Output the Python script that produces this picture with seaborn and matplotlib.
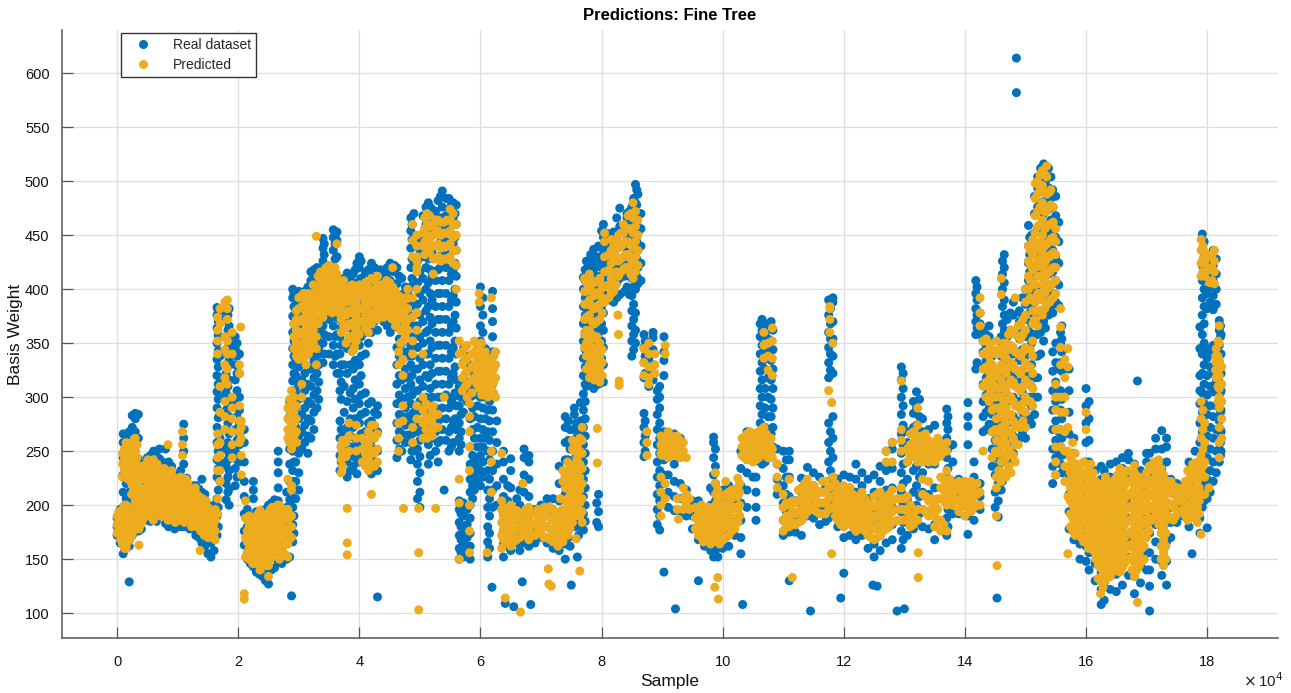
import numpy as np
import pandas as pd
import matplotlib
matplotlib.use("Agg")
import matplotlib.pyplot as plt
import seaborn as sns

# columns: (sample / 1e4, [basis weights])
real_seg1 = [
    (0.0,[172,180,188]),(0.05,[165,176,186,196]),(0.1,[155,168,182,198,212,228,244,258,266]),
    (0.15,[160,175,190,206,220,236,250,263]),(0.2,[162,178,195,212,228,243,256,268]),
    (0.25,[172,188,204,222,240,258,272,283]),(0.3,[180,196,214,232,250,268,280,285]),
    (0.35,[176,190,206,224,243,262,284]),(0.4,[178,194,210,226,238]),(0.45,[190,205,222,238]),
    (0.5,[186,202,218,234,244]),(0.55,[185,202,218,232,246]),(0.6,[187,205,222,240,250]),
    (0.65,[185,200,218,235,250]),(0.7,[190,207,225,243,252]),(0.75,[192,210,228,240]),
    (0.8,[183,200,218,235,252]),(0.85,[180,198,215,232,240]),(0.9,[182,200,220,236]),
    (0.95,[178,195,212,228]),(1.0,[180,195,212,228]),(1.05,[180,198,215,232]),
    (1.1,[180,200,220,238,250,262,275]),(1.15,[182,198,214,225]),(1.2,[178,195,212]),
    (1.25,[178,195,212,218]),(1.3,[172,188,205,218]),(1.35,[170,185,200,215]),
    (1.4,[165,182,198,212,224]),(1.45,[162,178,195,210]),(1.5,[155,170,185,200]),
    (1.55,[152,165,180,192]),(1.6,[158,172,188,200]),(1.65,[172,190,206,226,242,258,272,290,305,320,335,350,364,376,383]),
    (1.7,[222,240,262,284,300,318,338,356,372]),(1.8,[205,220,236,252,270,288,304,322,340,356,372,378]),
    (1.85,[200,215,232,248,266,282,300,316,334,350,366,382]),(1.95,[218,234,250,270,296,316,330,345,356]),
    (2.02,[240,256,266,275,288,300,322,340]),(2.1,[163,176,192,208,222,240,258,270]),(2.15,[150,165,180,196]),
    (2.2,[146,160,174,190]),(2.25,[143,158,172,186,206,214,222]),(2.3,[138,152,168,184,194]),
    (2.35,[136,150,166,182]),(2.4,[134,150,165,180,192]),(2.45,[130,148,164,180,196]),(2.5,[127,140,156,172,188,200]),
    (2.55,[140,156,172,186,202]),(2.6,[142,158,174,190,205]),(2.66,[148,164,182,204,216,230,240,250]),
    (2.72,[146,160,176,192]),(2.8,[150,166,182,198,212]),(2.85,[152,170,188,205,222,238,252,268,282,296]),
    (2.9,[166,182,198,214,232,250,266,282,298,315,330,345,360,375,392,400]),
    (2.95,[206,222,240,256,272,290,305,320,336,352,366,380,396]),
]
real_seg2 = [
    (3.05,[252,268,284,300,316,332,348,364,380,394]),(3.15,[248,264,280,296,312,328,344,360,376,392,402]),
    (3.2,[262,278,294,310,326,342,358,374,390,408,416]),(3.3,[290,306,322,338,354,372,388,404,420]),
    (3.4,[332,350,366,382,398,412,426,438,447]),(3.5,[340,356,372,388,404,418]),(3.57,[330,348,366,384,402,420,436,448,455]),
    (3.63,[322,340,358,376,394,412,430,445,453]),(3.68,[232,246,262,278,306,322,340,356,372,388,400]),
    (3.75,[250,268,286,310,330,350,372,392,410]),(3.8,[226,240,256,272,296,322,345,365,385,405,415]),
    (3.9,[236,254,272,290,308,326,344,362,380,398,414]),(3.96,[229,245,262,280,298,316,334,352,370,388,406,424]),
    (4.0,[240,258,276,294,312,330,348,366,384,402,420,430]),(4.1,[250,268,286,304,340,360,380,400,415]),
    (4.2,[229,244,260,278,296,360,380,398,412,424]),(4.3,[232,250,268,284,292,362,380,396,412]),
    (4.4,[370,386,402,416]),(4.51,[360,376,392,408,424]),(4.62,[244,260,276,294,312,330,346,365,385,405,420]),
    (4.7,[250,266,282,298,316,334,350,375,395,410]),(4.8,[265,282,300,318,338,358,378,396]),
    (4.85,[242,258,276,294,312,330,348,366,384,402,420,438,454,466]),(4.9,[250,268,286,306,326,346,366,386,406,426,448,470]),
    (5.0,[198,212,230,245,260,276,296,316,336,356,376,396,416,436,448]),(5.1,[262,280,300,320,340,360,380,400,420,440,460,476]),
    (5.14,[238,256,275,296,318,340,362,384,406,428,450,470,480]),(5.2,[262,280,300,322,346,368,390,412,434,456,474]),
    (5.3,[240,258,278,300,324,348,372,396,418,440,462,482]),(5.37,[270,290,312,336,360,384,408,432,456,476,491]),
    (5.48,[250,268,290,312,336,360,384,408,432,456,474,484]),(5.55,[258,278,300,322,346,370,394,418,442,466,480]),
    (5.6,[270,292,316,340,364,388,412,436,460,478]),(5.65,[150,160,172,184,196,204,250,262,276,292,310]),
    (5.72,[152,164,176,190,202,286,300,316,332,345]),(5.83,[150,162,174,188,200,212,224,238,254,280,300,330]),
    (5.9,[214,228,244,262,282,302,320,340]),(6.0,[218,232,246,262,280,300,320,338,352,366,384,402]),
    (6.08,[262,280,300,320,335,345]),(6.12,[152,166,180,198,214,232,250,268,288]),
    (6.2,[198,214,232,250,268,288,304,312,330,342,356,370,382,398]),(6.27,[200,218,238,258,278]),
]
real_seg3 = [
    (6.38,[152,164,176,192,208,224,240,250]),(6.45,[162,176,190,204,218]),(6.5,[158,172,186,200,216,232,243]),
    (6.6,[165,178,192,206]),(6.65,[158,172,186,200,214]),(6.72,[165,180,196,212,228,244,252]),
    (6.8,[162,176,192,208,224,240,246]),(6.9,[165,180,196]),(7.0,[170,186,200]),(7.1,[165,180,194,206]),
    (7.2,[160,176,192,206]),(7.3,[158,172,188,204,220,236]),(7.4,[150,164,178,194,210,226,242,258,272,282]),
    (7.48,[162,180,198,216,234,252,270]),(7.55,[190,206,222,238,254,270,284,290]),(7.62,[172,188,204,220,236,252,268]),
    (7.7,[177,192,208,224,240,256,272,288,303,320,336,352,368,384,400,411]),(7.75,[310,326,342,358,374,390,406,418,426]),
    (7.82,[312,328,344,360,376,392,408,424,432]),(7.87,[308,322,338,354,370,386,402,418,437]),
    (7.95,[180,194,210,312,328,344,360,376,392,408,424,440]),(8.03,[314,330,346,362,378,396,414,432,448,460]),
    (8.12,[390,404,420,436,450]),(8.2,[388,402,416,430,444,453]),(8.3,[395,410,426,442,458,475]),(8.38,[398,412,426,442,456]),
    (8.46,[395,412,428,444,460,472]),(8.5,[338,352,366,380,394,410,426,442,460,476]),(8.56,[350,362,378,400,420,440,460,480,497]),
    (8.6,[405,420,436,452,470,488]),(8.65,[408,424,440,456,470]),(8.7,[245,258,272,285,318,332,346,358]),
    (8.78,[310,322,336,350]),(8.85,[316,330,344,355,360]),(8.96,[177,190,204,218,232,248,262,276,290,300,310]),
]
real_seg4 = [
    (9.03,[228,242,258,268,320,334,342,356]),(9.1,[198,212,228,246,264]),(9.2,[195,208,222,238,252,266]),
    (9.3,[194,206,220,254,262]),(9.4,[190,202,214]),(9.5,[178,190,204]),(9.6,[168,180,192,204]),(9.7,[162,176,190]),
    (9.8,[158,172,186,200,216]),(9.85,[152,166,180,196,212,228,244,258,263]),(9.92,[152,164,178,192,206]),
    (10.0,[160,174,188,204,214]),(10.1,[162,176,190,204,218]),(10.2,[172,186,200,214]),(10.3,[155,170,186,202,218,234,250]),
    (10.4,[198,214,230,246,262,268]),(10.5,[226,242,256,266]),(10.55,[186,198,212,226,241,254,266]),
    (10.65,[238,252,268,284,300,316,332,348,362,372]),(10.7,[240,256,272,290,308,326,344,360,368]),(10.8,[250,266,282,298,316,334,352,370]),
    (10.9,[210,224,238,252]),(11.0,[172,186,202,218,234,250]),(11.1,[175,190,208,226,242,250]),(11.2,[175,188,204]),
    (11.3,[172,186,200,212,225]),(11.4,[190,204,218,235]),(11.5,[188,202,218,230]),(11.6,[182,196,212,226]),(11.7,[185,200,216]),
    (11.75,[188,204,222,240,258,276,318,332,346,360,376,390]),(11.82,[192,208,226,244,262,282,322,338,354,370,388,392]),
    (11.9,[180,194,210,224]),(12.0,[170,184,198,214,228]),
]
real_seg5 = [
    (12.1,[172,186,200,216,226]),(12.2,[168,182,196,212,224,238]),(12.3,[172,186,202,218,230]),(12.4,[160,174,190,206,224]),
    (12.5,[152,164,180,196,212,228]),(12.6,[158,172,186,204,222,236]),(12.7,[165,180,196,214,232,250]),
    (12.8,[168,182,198,216,234,252,258]),(12.95,[160,176,194,212,230,248,266,284,300,316,328]),(13.05,[172,188,206,224,240,258,268]),
    (13.15,[178,194,212,232,252,272,285,296]),(13.2,[184,200,218,236,254,274,290,305]),(13.3,[180,196,212,230,248,268,280]),
    (13.4,[178,194,210,238,254,270]),(13.5,[168,182,198,216,238,256,274]),(13.7,[172,188,206,226,244,262,276,289]),
    (13.8,[192,206,222,240,256]),(13.9,[192,208,224]),(14.05,[173,190,204,218,256,273,282,295]),(14.15,[186,200,214,226,240]),
    (14.18,[326,358,370,382,396,408]),(14.25,[196,208,220,358,368,378]),(14.3,[268,282,296,312,328,342,352,362]),
    (14.4,[275,290,306,322,338,356,366]),(14.45,[236,252,268,284,302,320,338]),(14.55,[189,204,220,236,252,268,284,298,312]),
    (14.6,[214,230,248,266,284,302,320,338,356]),(14.65,[362,376,390,406,420,432]),(14.7,[240,258,276,296,316,336,356,372]),
    (14.8,[248,264,282,300,320,340,360,376,388]),(14.9,[262,278,296,314,334,354,370,380]),(15.0,[262,280,298,318,338,356,372,386,400]),
    (15.05,[392,408,424,440,459]),(15.1,[275,292,310,330,350,368,384,400,418,436,450]),(15.2,[300,318,338,358,378,396,416,436,456,476,494,504]),
    (15.3,[352,370,390,410,430,450,470,490,508,516]),(15.38,[376,394,414,434,454,474,494,512]),(15.45,[220,236,252,270,288,306,324,342,378,396,416,436,456,476,492]),
    (15.55,[250,268,288,306,326,350,385,404,424,444,462]),(15.6,[230,246,262,280,298,324,342,354,366]),
]
real_seg6 = [
    (15.72,[178,194,210,228,246,266,286,306,326]),(15.8,[168,182,198,216,232,248,262]),(15.9,[150,164,180,196,212,230]),
    (16.0,[148,162,176,192,208,224,240,258,276,292,308]),(16.05,[140,156,172,190,208,224,240,260,280,296]),
    (16.15,[130,146,162,180,198,216,232]),(16.25,[108,122,138,154,172,190,206,224,236]),(16.3,[112,128,146,164,182,200,218,232]),
    (16.4,[122,138,156,174,192,210,226,238]),(16.5,[120,136,154,172,190,208,226,240]),(16.6,[126,144,162,180,198,216,234,244]),
    (16.7,[135,152,170,188,206,224,242,248]),(16.8,[118,134,150,168,186,204,222,238]),(16.9,[128,144,160,178,196,214,232]),
    (17.0,[140,156,172,190,208,226,240,248]),(17.05,[125,140,156,174,192,210,228,248]),(17.15,[150,166,182,200,218,236,252,262]),
    (17.25,[135,148,164,180,198,216,234,252,269]),(17.33,[126,148,166,184,202,222,240,254,262]),(17.4,[170,184,198,214,224]),
    (17.5,[184,198,212,220]),(17.6,[190,204,218]),(17.7,[180,194,208,222,240]),(17.8,[190,204,220,236,250]),
    (17.88,[174,188,204,222,240,258,276,294,306,320,345,365]),(17.92,[198,214,232,250,268,286,304,322,340,358,376,392,408,422,436,451]),
    (18.0,[206,224,244,264,284,302,320,336,345,382,396,410,424]),(18.1,[222,240,262,282,305,322,340,348,381,394,408,422,436]),
    (18.2,[240,252,262,278,296,314,332,348,362,371]),(18.23,[250,268,288,306,322,340,358]),
]
real_fill = [
    (1.67,[180,198,214,234,250,266,281,298,312,328,343,357,370,380]),(1.83,[212,226,242,258,276,294,310,328,346,362,376]),
    (1.98,[226,242,260,282,306,322,338,350]),(2.92,[174,190,206,222,240,258,274,290,306,322,338,352,368,384,396]),
    (3.0,[214,230,248,264,280,298,312,328,344,358,372,388,398]),(3.1,[258,274,290,306,322,338,354,370,386,398]),
    (3.25,[270,286,302,318,334,350,366,382,398,412,418]),(3.33,[298,314,330,346,362,380,396,412]),
    (3.42,[340,358,374,390,406,420,432,442]),(3.6,[338,356,374,392,410,428,442,450]),(3.7,[240,254,270,298,314,330,348,364,380,394]),
    (3.85,[232,246,264,280,304,330,352,372,392,408]),(3.93,[244,262,280,298,316,334,352,370,388,404,418]),
    (4.03,[248,266,284,302,320,338,356,374,392,410,426]),(4.15,[258,276,294,350,370,390,406,418]),(4.25,[236,252,270,286,370,388,404,420]),
    (4.35,[378,394,410,418]),(4.46,[366,382,398,414,420]),(4.58,[368,384,400,416,422]),(4.66,[252,268,284,302,320,338,354,372,392,412]),
    (4.76,[258,274,290,308,326,342,362,384,402]),(4.87,[250,266,284,302,320,338,356,374,392,410,428,446,460]),
    (4.96,[206,222,238,252,268,286,306,326,346,366,386,406,426,442]),(5.05,[270,290,310,330,350,370,390,410,430,450,468]),
    (5.17,[246,266,286,308,330,352,374,396,418,440,462,476]),(5.26,[250,268,290,312,336,360,384,408,430,452,472]),
    (5.34,[260,280,300,324,348,372,396,420,444,466,486]),(5.43,[260,280,302,324,348,372,396,420,444,468,484]),
    (5.52,[254,272,296,318,342,366,390,414,438,462,478]),(5.58,[280,304,328,352,376,400,424,448,470]),
    (5.68,[156,168,180,192,200,256,268,284,300]),(5.78,[158,170,182,196,296,308,324,338]),(5.87,[206,218,232,246,270,290,310,326]),
    (5.95,[222,238,254,272,292,310,330,346]),(6.04,[226,240,254,270,290,310,328,345,360,376,392]),(6.15,[160,174,190,206,224,242,260,278,296]),
    (7.45,[170,188,206,224,242,260,278]),(7.58,[180,196,212,228,246,262,276]),(7.65,[182,196,212,230,246,262,278,295]),
    (7.73,[185,200,216,232,248,264,280,296,312,328,344,360,376,392,408,418]),(7.78,[315,334,350,366,382,398,412,422]),
    (7.85,[316,332,348,364,380,396,412,428]),(7.92,[184,202,316,332,348,364,380,396,412,430]),(8.0,[318,336,352,368,384,402,420,438,454]),
    (8.08,[392,408,426,442,452]),(8.25,[392,406,422,438,452,466]),(8.42,[402,418,434,450,466,470]),(8.53,[344,358,372,386,402,418,434,450,468,484]),
    (8.58,[412,428,444,462,478,492]),(8.72,[250,264,278,322,338,352]),(8.92,[182,196,210,226,240,256,270,284,298,306]),
    (10.62,[244,260,276,292,308,324,340,356,368]),(10.75,[248,264,282,300,318,336,354,364]),(10.83,[254,272,290,308,326,344,362]),
    (11.78,[196,214,232,250,268,325,340,354,368,382,390]),(9.88,[158,172,188,204,220,236,252]),(11.05,[178,194,210,226,242]),
    (12.98,[168,184,202,220,238,256,274,292,308,322]),(13.25,[192,208,226,244,262,282,298]),(13.72,[180,196,214,234,252,270,282]),
    (14.2,[332,364,376,390,402]),(14.35,[270,286,302,318,334,348,358]),(14.5,[198,212,228,244,260,276,292,305]),
    (14.62,[222,240,258,276,294,312,330,348,368,384,400,414,426]),(14.75,[246,262,280,300,320,340,362,378]),(14.95,[268,286,304,322,344,362,376,392]),
    (15.07,[280,300,320,340,360,378,398,416,432,448]),(15.15,[284,300,318,338,358,376,394,412,432,452,470,486]),
    (15.25,[340,360,380,400,420,440,460,480,500,512]),(15.33,[364,382,402,422,442,462,482,500,514]),(15.42,[384,404,424,444,464,484,504]),
    (15.5,[228,244,260,278,296,314,332,350,388,408,428,448,468,486]),(15.58,[238,254,270,288,306,332,350,360]),
    (17.95,[204,220,240,258,276,294,312,330,350,368,384,400,416,430,444]),(18.05,[212,232,252,272,292,310,328,342,388,402,416,430]),
    (18.15,[230,250,270,292,314,332,346,386,400,414,428]),(18.22,[246,258,270,286,304,322,340,356,366]),
]
real_outliers = [
    (0.2,[129]),(2.88,[116]),(4.3,[115]),(5.4,[214]),(6.19,[124]),(6.41,[109]),(6.55,[106]),(6.69,[129]),(6.83,[108]),
    (7.5,[126]),(7.6,[152]),(9.03,[138]),(9.22,[104]),(9.6,[130]),(10.33,[108]),(11.1,[130]),(11.45,[102]),(11.95,[114]),
    (12.0,[137]),(12.48,[126]),(12.55,[125]),(12.88,[102]),(13.0,[104]),(14.53,[114]),(17.05,[102]),(16.85,[315]),
    (14.85,[614,582]),(17.75,[155]),(18.0,[179]),
]

pred_seg1 = [
    (0.0,[174,182,190]),(0.06,[168,176,184,192]),(0.12,[160,170,180,190,200,232,242,252]),(0.18,[166,176,186,196,224,234,244,254]),
    (0.24,[172,182,192,210,220,230,240,250,258]),(0.3,[178,190,204,216,228,240,250,262]),(0.36,[178,188,198,210,222,232]),
    (0.42,[186,200,212,224,232]),(0.48,[194,206,216,226,238]),(0.54,[198,208,218,228,240]),(0.6,[186,200,212,222,234,242]),
    (0.66,[196,206,216,228,238]),(0.72,[190,202,212,222,232]),(0.78,[196,206,216,226,234]),(0.84,[186,198,208,218,228,256]),
    (0.9,[192,202,212,222,232]),(0.96,[184,194,204,214]),(1.02,[186,196,206,216,224]),(1.08,[190,200,210,220,246,256,268]),
    (1.14,[186,196,206,216,224]),(1.2,[186,196,206,214]),(1.26,[184,194,204,214]),(1.32,[180,190,200,210]),(1.38,[176,186,196,206]),
    (1.44,[172,182,192,202]),(1.5,[170,180,190,198]),(1.56,[170,180,188]),(1.62,[168,176,186,196]),(1.66,[192,206,232,244,256,266,340,352,362,374]),
    (1.7,[222,232,246,258,286,310,368,382]),(1.78,[270,282,296,318,330,344,356,388]),(1.82,[312,326,340,352,372,382,390]),
    (1.9,[244,256,268,280,290,300,340,360]),(2.02,[258,268,278,292,322,330]),(2.05,[228,246,262,272,278]),(2.12,[188,204,170,152]),
    (2.18,[150,160,170,180,190]),(2.24,[146,156,166,176,186]),(2.3,[150,160,170,180,190]),(2.36,[140,152,164,176,186]),(2.44,[150,162,174,186]),
    (2.5,[134,144,158,170,182,192]),(2.56,[160,170,180,190,198]),(2.62,[164,174,184,194]),(2.68,[150,160,170,182,192,200]),
    (2.74,[156,168,178,188]),(2.82,[152,164,174,186,196,224,262,270,280,290]),(2.88,[170,180,190,214,218,252,262,272,282,294,306]),
]
pred_seg2 = [
    (2.96,[258,268,280,292,338,350,362,372,380]),(3.05,[300,312,340,350,360,372,384,394]),(3.12,[330,342,354,366,378,390]),
    (3.2,[345,356,368,380,392]),(3.29,[330,345,356,368,380,392,449]),(3.36,[376,386,396,406,416]),(3.45,[380,390,400,410,420]),
    (3.55,[378,388,398,408,418]),(3.63,[384,394,404,414,442]),(3.7,[230,242,254,360,372,384,394,404]),(3.78,[245,258,350,364,376,388,398]),
    (3.88,[342,354,366,378,388,398,404]),(3.95,[250,262,274,352,364,376,388,400]),(4.05,[240,252,262,370,382,394,402]),
    (4.15,[232,244,256,268,360,372,384,394,402]),(4.25,[236,248,262,274,378,388,398,408]),(4.35,[376,386,396,404]),(4.45,[378,388,398,408]),
    (4.55,[372,382,392,402,420]),(4.65,[250,262,276,330,342,372,384,394]),(4.72,[278,292,320,335,352,376,388]),(4.8,[362,372,382,392,400]),
    (4.88,[258,272,340,352,374,392,430,445,460]),(4.95,[280,292,362,378,400,416,426]),(5.05,[262,276,288,300,340,440,452]),
    (5.12,[262,278,440,450,460,470]),(5.22,[270,282,292,414,428,440,450,460]),(5.3,[272,284,430,442,454,464]),(5.4,[300,428,440,452,462]),
    (5.5,[430,442,454,464,474]),(5.6,[400,422,436,450,460]),(5.65,[150,202,224,340,352]),(5.75,[310,322,334,346]),(5.82,[156,176,200,232,254,268,282,294]),
    (5.9,[318,330,342,352]),(5.98,[308,320,332,344,388,396]),(6.08,[306,318,330,342]),(6.18,[212,240,250,308,320,332,392]),
    (6.25,[300,318,330,342]),
]
pred_seg3 = [
    (6.35,[160,172,184,196,204,248]),(6.42,[166,176,186,196]),(6.5,[162,172,182,192,200]),(6.6,[168,178,188,195]),(6.7,[172,182,192,220]),
    (6.8,[168,178,188,198]),(6.9,[172,182,192]),(7.0,[174,184,194]),(7.1,[170,180,190,198]),(7.2,[166,176,186,196]),(7.28,[162,172,182,192]),
    (7.36,[166,176,186,196,222,232]),(7.44,[172,182,194,206,218,232,240]),(7.52,[184,196,208,218,230,252,260]),(7.6,[196,208,220,232,244,256]),
    (7.68,[184,194,206,220,234,248,260,272]),(7.72,[346,358,372,386,398,410]),(7.8,[318,330,340,352,362,376,390,402,414]),(7.88,[316,326,340,354,368,382,394,406]),
    (7.97,[314,326,338,350,372,386,398,410]),(8.05,[388,402,416,430,444,452]),(8.12,[392,404,418,432]),(8.2,[398,412,426,440]),
    (8.28,[412,426,438,450]),(8.36,[418,430,442,452,460]),(8.44,[420,432,444,456,468]),(8.52,[410,424,438,452,466,480]),(8.6,[422,436,450,464]),
    (8.7,[345,332,320]),(8.78,[328,340,350,318,312]),(8.88,[330,340,322]),(8.75,[258,268,246]),
]
pred_seg4 = [
    (8.98,[190,200,212,226,248,256,264]),(9.05,[206,220,246,254,262,340,348]),(9.15,[248,256,264]),(9.25,[196,206,248,256,264]),
    (9.35,[196,206,216,250,258]),(9.45,[196,206]),(9.55,[178,188,198]),(9.65,[170,180,190,200]),(9.72,[172,182,192]),(9.8,[164,174,184,194]),
    (9.88,[170,180,190,200,210,220,230]),(9.95,[164,176,186,196,206]),(10.05,[170,180,190,200,210,222]),(10.15,[176,186,196,206,214]),
    (10.25,[184,196,208,216,225]),(10.32,[246,254,262]),(10.4,[242,250,258,266]),(10.5,[240,248,256,264]),(10.6,[244,252,260,268]),
    (10.68,[248,256,264,272,336,348,360]),(10.75,[244,254,262,325,338,350]),(10.82,[244,252,320,336,352,364]),(10.9,[216,226,238]),
    (11.0,[176,186,198,210]),(11.1,[180,190,200,224]),(11.2,[182,192,202]),(11.3,[186,196,206,216]),(11.4,[194,204,214,224]),(11.5,[198,208,218]),
    (11.6,[192,202,212]),(11.7,[192,202,212,222]),(11.77,[360,372,382,384]),(11.82,[198,208,218,226,350]),(11.9,[186,196,206,216]),(12.0,[180,190,200,210,218]),
]
pred_seg5 = [
    (12.1,[186,196,206,216]),(12.2,[176,186,196,206]),(12.3,[182,192,202,212]),(12.4,[172,182,192,202]),(12.5,[168,178,188,198,208]),
    (12.6,[172,182,192,202,212]),(12.7,[178,188,198,208,240,250]),(12.8,[184,194,204,214,240,258]),(12.95,[186,196,206,216,250,260,270,315]),
    (13.05,[186,194,208,240,252]),(13.15,[182,192,248,258,268]),(13.22,[186,196,240,250,262,274,290]),(13.3,[196,210,224,240,252,262]),
    (13.4,[190,204,222,240,250,260]),(13.5,[180,190,200,240,250,258]),(13.6,[176,186,206,216,226,246,256]),(13.7,[176,200,210,220,232,250,258]),
    (13.8,[200,210,220]),(13.9,[204,214,222,194]),(14.0,[190,204,214,222]),(14.1,[194,204,214,222]),(14.2,[200,210,220]),(14.25,[200,212,366,378,392]),
    (14.3,[250,310,326,340,352]),(14.4,[296,310,324,338,350]),(14.45,[244,268,288,302,316,330,344]),(14.52,[190,216,226,260,280,300,320,340,352]),
    (14.6,[222,240,256,272,286,300,316,330,344,395,410]),(14.68,[226,244,258,276,290,306,322,336,350]),(14.76,[230,248,266,284,300,316,332,348,362]),
    (14.83,[240,256,272,292,310,326,342,358,392]),(14.92,[272,288,306,322,338,354,368]),(15.0,[272,286,300,316,332,346,362,376,388,400]),
    (15.05,[400,412,426,440]),(15.12,[292,308,322,338,352,368,380,390,418,432,446]),(15.2,[366,380,396,412,426,440,458,472,488,500]),
    (15.28,[376,390,404,420,434,450,464,480,496,510]),(15.35,[386,400,414,428,442,458,472,488,504,514]),(15.42,[390,404,418,432,446,460,478,492]),
    (15.5,[228,240,254,270,288,300,312,396,408,420,432,444,456]),(15.58,[254,270,286,300,330,346,365,382]),
]
pred_seg6 = [
    (15.65,[222,236,250,268,286,300,318,335]),(15.7,[208,222,236,250,272,345,328]),(15.78,[176,188,200,212,226,240,258]),(15.85,[176,188,200,212,226,238]),
    (15.92,[170,182,194,206,218,230]),(16.0,[166,178,190,202,214,226,238,270,286]),(16.08,[166,178,190,202,214,226,238]),(16.16,[150,162,174,186,198,210,222]),
    (16.24,[118,130,142,154,166,178,190,202,214]),(16.32,[130,142,154,166,178,190,202,214,226]),(16.4,[134,146,158,170,182,194,206,218]),
    (16.48,[140,152,164,176,188,200,212,224]),(16.56,[138,150,162,174,186,198,210,222,234]),(16.64,[146,158,170,182,194,206,218,230]),
    (16.72,[150,162,174,186,198,210,222]),(16.8,[134,146,158,170,182,194,206,218,230]),(16.88,[144,156,168,180,192,204,216,226]),(16.96,[150,162,174,186,198,210,222]),
    (17.04,[176,188,200,212,224,236]),(17.12,[196,208,220,232,240]),(17.2,[182,194,206,218,230,242]),(17.28,[144,156,168,180,192,204,216,228]),(17.36,[190,202,214,222]),
    (17.44,[186,198,210,218]),(17.52,[194,206,216]),(17.6,[196,206,216]),(17.68,[186,198,210,222,232]),(17.76,[192,204,216,228,238]),
    (17.84,[184,198,210,222,232,240]),(17.9,[230,246,262,280,296,412,424,436,446]),(17.96,[210,226,240,258,276,412,424,434]),(18.04,[406,418,430]),
    (18.12,[405,416,426,436]),(18.15,[318,332,345]),(18.2,[244,258,272,290,300,308,320,334,350,366]),(18.24,[262,280,296,312,328]),
]
pred_fill_low = [
    (0.03,[178,186,194]),(0.09,[164,172,180,186,196,226,238,248]),(0.15,[160,168,178,188,200,228,238,248,258]),(0.21,[168,178,188,198,226,236,246,254]),
    (0.27,[176,186,196,214,224,234,244,254]),(0.33,[184,196,208,220,232,244,256]),(0.39,[182,192,202,214,226,236]),(0.45,[192,204,214,224,234]),
    (0.51,[190,200,210,220,232,242]),(0.57,[192,202,212,222,234]),(0.63,[190,204,214,226,236]),(0.69,[192,202,212,224,234]),(0.75,[190,200,210,220,230]),
    (0.81,[192,202,212,222,230]),(0.87,[188,198,208,218,228]),(0.93,[186,196,206,216,226]),(0.99,[190,200,210,220]),(1.05,[188,198,208,218,226]),
    (1.11,[184,194,204,214,224]),(1.17,[190,200,210,220]),(1.23,[180,190,200,210]),(1.29,[186,196,206,216]),(1.35,[180,190,200,208]),(1.41,[176,186,196,206]),
    (1.47,[176,186,196,204]),(1.53,[174,184,194]),(1.59,[172,182,192]),(2.15,[156,166,176,186]),(2.21,[152,162,172,184]),(2.27,[146,158,168,178,188]),
    (2.33,[146,156,170,182,192]),(2.4,[146,158,170,180,190]),(2.47,[144,156,168,180,192]),(2.53,[150,162,174,186,196]),(2.59,[156,166,176,186,196]),
    (2.65,[156,168,178,188,200]),(2.71,[160,172,184,194]),(2.78,[154,166,178,188,196]),(2.85,[258,268,278,288,298]),(2.92,[264,276,288,300,345,356,368]),
    (6.38,[168,178,190,198]),(6.46,[170,180,190]),(6.55,[166,176,186,196]),(6.65,[170,180,190]),(6.75,[176,186,196]),(6.85,[172,182,192]),(6.95,[176,186,196]),
    (7.05,[170,180,190,198]),(7.15,[168,178,188,198]),(7.25,[170,180,190]),(7.32,[172,184,194,206]),(7.4,[180,192,204,216,228]),(7.48,[178,188,200,212,224,236]),
    (7.56,[190,202,214,226,238,250]),(7.64,[190,202,214,226,238,250,262]),
]
pred_fill_high = [
    (3.0,[335,346,358,370,382,392]),(3.08,[336,348,360,372,384,396]),(3.16,[340,350,362,374,386,396]),(3.24,[350,362,374,386,396,404]),(3.32,[368,380,392,402,412]),
    (3.4,[374,384,394,404,414]),(3.5,[384,394,404,414,422]),(3.6,[382,392,402,412,420]),(3.66,[378,388,398,408]),(3.74,[366,378,390,400,408]),(3.83,[356,368,380,392,402]),
    (3.92,[346,358,370,382,394,402]),(4.0,[358,370,382,394,404]),(4.1,[364,376,388,398,406]),(4.2,[368,378,388,398,410]),(4.3,[372,382,392,402,412]),(4.4,[374,384,394,404]),
    (4.5,[376,386,396,406]),(4.6,[366,378,388,398]),(4.68,[350,362,376,388]),(4.76,[356,368,380,392]),(3.72,[236,248,260]),(3.83,[250,264,276]),(4.1,[236,248,258]),
    (4.2,[238,250,262,274]),(4.3,[240,252,266]),(5.08,[432,444,456,466]),(5.16,[434,446,458,468]),(5.26,[428,440,452,464]),(5.35,[426,438,450,462]),(5.45,[428,440,452,464]),
    (5.55,[424,436,448,460,470]),(4.95,[430,440,450,420]),(5.1,[270,282,294]),(5.2,[264,276,288]),(5.7,[306,318,330,342]),(5.78,[300,312,324,336,348]),(5.86,[304,316,328,340]),
    (5.94,[312,324,336,348]),(6.02,[302,314,326,338,350]),(6.12,[300,312,324,336]),(6.22,[304,314,326,338]),(7.75,[326,338,350,362,374,386,398,406]),(7.84,[322,334,346,358,370,384,398,408]),
    (7.92,[320,332,344,356,370,384,396]),(8.01,[320,332,344,378,392,404]),(8.16,[396,410,424,436,446]),(8.24,[404,416,430,444]),(8.32,[416,428,440,452]),(8.4,[420,432,444,456]),
    (8.48,[414,428,442,456,470]),(8.56,[416,430,444,458,472]),
]
pred_fill_mid = [
    (9.0,[246,254,262]),(9.1,[244,252,260,268]),(9.2,[246,254,262]),(9.3,[244,252,260]),(9.4,[200,210,244]),(9.6,[172,182,192]),(9.68,[166,176,186,196]),(9.76,[168,178,188,198]),
    (9.84,[166,176,186,196]),(9.92,[166,174,184,194,204,214]),(10.0,[168,178,188,198,208]),(10.1,[172,182,192,202,212]),(10.2,[178,188,198,208]),(10.28,[190,200,212,220]),
    (10.36,[244,252,260]),(10.45,[246,254,262,268]),(10.55,[242,250,258,266]),(10.64,[246,254,262,270]),(10.72,[250,258,266]),(10.8,[246,254,262]),(11.05,[180,190,202]),
    (11.15,[184,194,204]),(11.25,[184,194,204,214]),(11.35,[190,200,210,220]),(11.45,[196,206,216]),(11.55,[194,204,214]),(11.65,[192,202,212,222]),(11.75,[196,206,216]),
    (11.86,[190,200,210,220]),(11.95,[182,192,202,212]),(12.05,[184,194,204,214]),(12.15,[180,190,200,210]),(12.25,[178,188,198,208]),(12.35,[176,186,196,206]),(12.45,[170,180,190,200]),
    (12.55,[170,180,190,200,210]),(12.65,[176,186,196,206]),(12.75,[180,190,200,210]),(12.88,[186,196,206]),(13.0,[186,196,206]),(13.1,[180,190,200,246,256,266]),(13.18,[244,254,264]),
    (13.27,[244,254,264]),(13.35,[194,208,246,256,266]),(13.45,[196,206,244,254]),(13.55,[186,196,206,244,254,262]),(13.65,[182,204,214,224,250]),(13.75,[204,214,224]),
    (13.85,[204,214,220]),(13.95,[198,208,218]),(14.05,[198,208,218]),(14.15,[198,208,218]),
]
pred_fill_end = [
    (14.35,[300,314,328,342,354]),(14.42,[304,318,332,346]),(14.5,[250,270,290,310,326,342]),(14.56,[232,248,268,290,308,326,344]),(14.64,[230,248,264,280,294,310,324,338,350]),
    (14.72,[236,252,268,284,298,312,328,344,358]),(14.8,[246,262,278,296,314,330,346,360]),(14.88,[256,274,292,308,324,340,356,366]),(14.96,[278,294,310,326,342,358,372]),
    (15.08,[296,312,328,344,392,408,422,436]),(15.16,[372,388,404,420,436,452,468,484,498]),(15.24,[380,396,412,428,444,460,476,492,506]),(15.32,[382,396,410,424,440,456,472,490,506]),
    (15.4,[388,402,416,430,444,460,476,490]),(15.46,[392,406,420,434,448,462,476]),(15.74,[180,192,204,216,230,244]),(15.82,[172,184,196,208,220,232,248]),(15.88,[174,186,198,210,222,234]),
    (15.96,[166,178,190,202,214,226,240]),(16.04,[160,172,184,196,208,220,232]),(16.12,[158,170,182,194,206,218,230]),(16.2,[132,144,156,168,180,192,204,216]),(16.28,[124,136,148,160,172,184,196,208,220]),
    (16.36,[136,148,160,172,184,196,208,220]),(16.44,[138,150,162,174,186,198,210,222]),(16.52,[144,156,168,180,192,204,216,228]),(16.6,[142,154,166,178,190,202,214,226]),(16.68,[150,162,174,186,198,210,222,232]),
    (16.76,[140,152,164,176,188,200,212,224]),(16.84,[140,152,164,176,188,200,212,224]),(16.92,[148,162,174,186,198,210,220]),(17.0,[170,182,194,206,218,230]),(17.08,[186,198,210,222,234]),
    (17.16,[190,202,214,226,238]),(17.24,[150,162,174,186,198,210,222,234]),(17.32,[150,162,174,186,198,210,220]),(17.4,[188,200,212,222]),(17.48,[190,202,214]),(17.56,[194,204,214]),
    (17.64,[190,200,212,222]),(17.72,[190,202,214,226]),(17.8,[188,200,212,224,234]),(17.87,[192,204,216,228,238]),(18.08,[408,420,432]),(17.93,[236,252,270,288,416,428,440]),
    (18.18,[296,310,324,338,352]),(18.14,[325,338]),
]
pred_outliers = [
    (3.8,[197,165,154]),(4.2,[210]),(4.73,[197]),(4.98,[197,156,103]),(5.26,[197]),(2.1,[118,113]),(1.37,[158]),(0.36,[163]),
    (2.36,[195]),(2.04,[365]),(6.11,[156]),(6.41,[114]),(6.66,[101]),(7.12,[141]),(7.13,[127]),(7.17,[125]),(7.64,[139]),(7.58,[169]),
    (7.93,[271,239]),(8.27,[376]),(8.28,[358]),(8.29,[315,311]),(9.27,[187]),(9.92,[133]),(9.87,[124]),(9.93,[113]),(11.15,[133]),
    (11.8,[155,295]),(11.75,[306]),(14.53,[144]),(13.23,[133,156]),(15.7,[155]),(16.85,[110]),(17.9,[173]),(18.03,[216]),(16.92,[160]),(16.8,[237]),
]

x_ticks = [0, 2, 4, 6, 8, 10, 12, 14, 16, 18]
y_ticks = [100, 150, 200, 250, 300, 350, 400, 450, 500, 550, 600]
BLUE = "#0072BD"
ORANGE = "#EDAB1E"


def to_frame(parts, label):
    rows = [(x, y, label) for part in parts for x, ys in part for y in ys]
    return pd.DataFrame(rows, columns=["Sample", "Basis Weight", "series"])


df = pd.concat([
    to_frame([real_seg1, real_seg2, real_seg3, real_seg4, real_seg5, real_seg6, real_fill, real_outliers], "Real dataset"),
    to_frame([pred_seg1, pred_seg2, pred_seg3, pred_seg4, pred_seg5, pred_seg6, pred_fill_low, pred_fill_high,
              pred_fill_mid, pred_fill_end, pred_outliers], "Predicted"),
], ignore_index=True)

sns.set_style("whitegrid")
plt.rcParams["font.family"] = ["Liberation Sans", "DejaVu Sans"]

fig = plt.figure(figsize=(12.91, 6.93), dpi=100)
ax = fig.add_axes([62 / 1291, 1 - 638 / 693, (1278 - 62) / 1291, (638 - 30) / 693])
sns.scatterplot(data=df, x="Sample", y="Basis Weight", hue="series",
                palette={"Real dataset": BLUE, "Predicted": ORANGE},
                s=42, linewidth=0, ax=ax, zorder=3)

ax.set_xlim(-0.91, 19.17)
ax.set_ylim(77, 640)
ax.set_xticks(x_ticks)
ax.set_yticks(y_ticks)
ax.grid(True, color="#dedede", linewidth=0.9)
ax.set_axisbelow(True)
for side in ["top", "right"]:
    ax.spines[side].set_visible(False)
for side in ["left", "bottom"]:
    ax.spines[side].set_color("#555555")
    ax.spines[side].set_linewidth(1.1)
ax.tick_params(axis="both", direction="in", left=True, bottom=True, length=8, width=0.9,
               color="#555555", labelsize=10.5, labelcolor="#111111")
ax.tick_params(axis="x", pad=12)
ax.tick_params(axis="y", pad=9)
ax.set_xlabel("Sample", fontsize=12.5, color="#111111", labelpad=4)
ax.set_ylabel("Basis Weight", fontsize=12.5, color="#111111", labelpad=0)
ax.yaxis.set_label_coords(-39 / 1216, 0.5)
ax.set_title("Predictions: Fine Tree", fontsize=12, fontweight="bold", color="black", pad=7)
fig.text(1243 / 1291, 1 - 681 / 693, r"$\times\,$10$^{4}$", fontsize=11, va="center", color="#222222")

handles, labels = ax.get_legend_handles_labels()
leg = ax.legend(handles, labels, loc="upper left", bbox_to_anchor=(59 / 1216, 1 - 3 / 608),
                borderaxespad=0, frameon=True, fancybox=False, edgecolor="#333333",
                framealpha=1, fontsize=10, labelspacing=0.45, handlelength=2.4, handletextpad=1.0,
                borderpad=0.35, title=None)
leg.get_frame().set_linewidth(1)

fig.savefig("out.png", dpi=100)
